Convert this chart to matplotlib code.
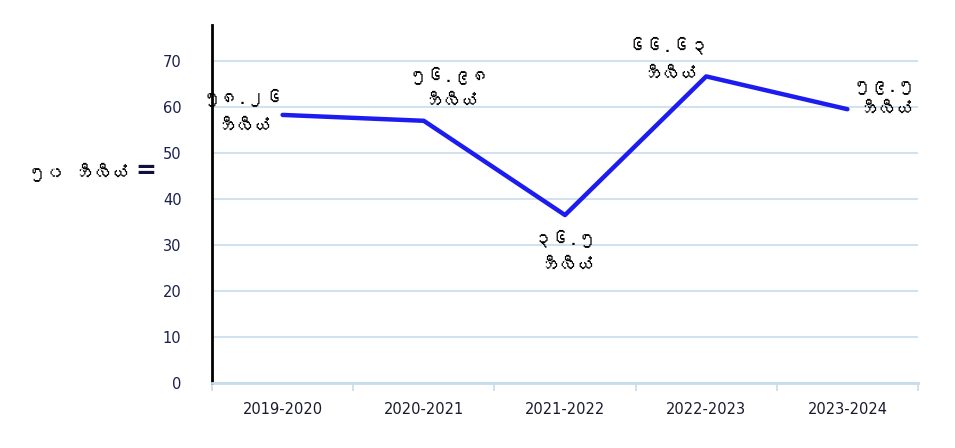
import matplotlib
matplotlib.use("Agg")
import matplotlib.pyplot as plt
from matplotlib import font_manager
from matplotlib.ft2font import FT2Font

# data
periods = ["2019-2020", "2020-2021", "2021-2022", "2022-2023", "2023-2024"]
values = [58.26, 56.98, 36.5, 66.63, 59.5]
value_labels = ["၅၈.၂၆", "၅၆.၉၈", "၃၆.၅", "၆၆.၆၃", "၅၉.၅"]
unit_word = "ဘီလီယံ"
y_title = "၅၀ ဘီလီယံ"


# pick a font that has Myanmar glyphs, if one is installed
def find_myanmar_font():
    for f in font_manager.fontManager.ttflist:
        try:
            cmap = FT2Font(f.fname).get_charmap()
        except Exception:
            continue
        if 0x1018 in cmap and 0x1040 in cmap:
            return f.name
    return None


mm_font = find_myanmar_font()
families = [mm_font, "DejaVu Sans"] if mm_font else ["DejaVu Sans"]

fig = plt.figure(figsize=(9.55, 4.48), dpi=100)
ax = fig.add_axes([212 / 955, 1 - 383 / 448, 706 / 955, 358 / 448])

x = list(range(len(periods)))
ax.plot(x, values, color="#1c1cf0", linewidth=3.2, solid_capstyle="round")

ax.set_xlim(-0.5, len(periods) - 0.5)
ax.set_ylim(0, 77.8)
ax.set_yticks(range(0, 71, 10))
ax.yaxis.grid(True, color="#c8dcea", linewidth=1.2)
ax.set_axisbelow(True)

for s in ["top", "right"]:
    ax.spines[s].set_visible(False)
ax.spines["left"].set_color("black")
ax.spines["left"].set_linewidth(2)
ax.spines["bottom"].set_color("#c8dcea")
ax.spines["bottom"].set_linewidth(2)

ax.set_xticks(x)
ax.set_xticklabels(periods, fontsize=10.5, color="#1a1a2e")
ax.tick_params(axis="x", length=0, pad=14)
# small tick marks between the categories
ax.set_xticks([i + 0.5 for i in range(-1, len(periods))], minor=True)
ax.tick_params(axis="x", which="minor", length=6, color="#c8dcea", width=1.2)
ax.tick_params(axis="y", length=0, pad=22, labelsize=10.5, labelcolor="#1a2050")

# value labels: number on top, unit underneath (offsets in pixels)
offsets = [(-40, 18, -12), (25, 46, 19), (0, -23, -51), (-38, 31, 2), (37, 21, -1)]
for xi, v, lab, (dx, dy1, dy2) in zip(x, values, value_labels, offsets):
    for txt, dy in ((lab, dy1), (unit_word, dy2)):
        ax.annotate(txt, (xi, v), xytext=(dx * 0.72, dy * 0.72),
                    textcoords="offset points", ha="center", va="center",
                    fontsize=13, family=families, color="black")

# unit note on the left, followed by a bold "="
title = fig.text(28 / 955, 1 - 172 / 448, y_title, fontsize=13, fontweight="bold",
                 family=families, va="center", ha="left", color="black")
ax.annotate("=", xy=(1, 0.55), xycoords=title, xytext=(6, 0),
            textcoords="offset points", fontsize=18, fontweight="bold",
            va="center", ha="left", color="#101040", annotation_clip=False)

fig.savefig("out.png", dpi=100)
